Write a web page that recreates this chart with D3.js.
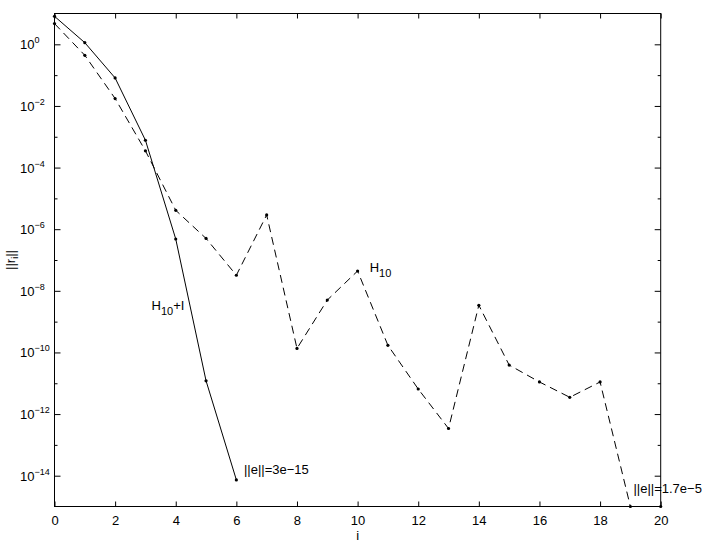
<!DOCTYPE html>
<html>
<head>
<meta charset="utf-8">
<script src="https://cdn.jsdelivr.net/npm/d3@7"></script>
<style>
  body { margin: 0; background: #fff; }
  svg text { font-family: "Liberation Sans", Arial, Helvetica, sans-serif; fill: #000; }
</style>
</head>
<body>
<svg id="chart" width="708" height="545"></svg>
<script>
// iteration index
var iters = d3.range(0, 21);

// residual norms
var hilbertPlusI = [8.1, 1.13, 0.081, 7.7e-4, 4.8e-7, 1.2e-11, 7.3e-15];
var hilbert = [4.7, 0.44, 0.0174, 3.5e-4, 4.1e-6, 5e-7, 3.2e-8, 2.9e-6, 1.35e-10, 5e-9,
               4.4e-8, 1.7e-10, 6.5e-12, 3.4e-13, 3.4e-9, 3.9e-11, 1.1e-11, 3.5e-12, 1.1e-11,
               1e-15, 1e-15];

var xTicks = [0, 2, 4, 6, 8, 10, 12, 14, 16, 18, 20];
var yMajorExp = [0, -2, -4, -6, -8, -10, -12, -14];
var yMinorExp = [-1, -3, -5, -7, -9, -11, -13];

// text annotations: [i, value, main, subscript, rest]
var notes = [
  [3.2, 2.3e-9, "H", "10", "+I"],
  [10.4, 4.0e-8, "H", "10", ""],
  [6.25, 1.1e-14, "||e||=3e\u221215", "", ""],
  [19.1, 2.7e-15, "||e||=1.7e\u22125", "", ""]
];

var svg = d3.select("#chart");
var padL = 54.5, padR = 660.7, padT = 13.5, padB = 506.5;

var x = d3.scaleLinear().domain([0, 20]).range([padL, padR]);
var y = d3.scaleLog().domain([1e-15, 1e1]).range([padB, padT]);

// frame
svg.append("rect")
  .attr("x", padL).attr("y", padT)
  .attr("width", padR - padL).attr("height", padB - padT)
  .attr("fill", "none").attr("stroke", "#000").attr("stroke-width", 1);

function clean(g){ g.select(".domain").remove(); g.selectAll(".tick line").attr("stroke", "#000"); }

// x ticks bottom + top
svg.append("g").attr("transform", "translate(0," + padB + ")")
  .call(d3.axisBottom(x).tickValues(xTicks).tickSize(-5).tickPadding(9).tickFormat(d3.format("d")))
  .call(clean)
  .call(function(g){ g.attr("font-family", null).attr("font-size", 13); });
svg.append("g").attr("transform", "translate(0," + padT + ")")
  .call(d3.axisTop(x).tickValues(xTicks).tickSize(-5).tickFormat(""))
  .call(clean);

// y ticks left + right
var majorVals = yMajorExp.map(function(e){ return Math.pow(10, e); });
var minorVals = yMinorExp.map(function(e){ return Math.pow(10, e); });
svg.append("g").attr("transform", "translate(" + padL + ",0)")
  .call(d3.axisLeft(y).tickValues(majorVals).tickSize(-6).tickFormat(""))
  .call(clean);
svg.append("g").attr("transform", "translate(" + padL + ",0)")
  .call(d3.axisLeft(y).tickValues(minorVals).tickSize(-3).tickFormat(""))
  .call(clean);
svg.append("g").attr("transform", "translate(" + padR + ",0)")
  .call(d3.axisRight(y).tickValues(majorVals).tickSize(-6).tickFormat(""))
  .call(clean);
svg.append("g").attr("transform", "translate(" + padR + ",0)")
  .call(d3.axisRight(y).tickValues(minorVals).tickSize(-3).tickFormat(""))
  .call(clean);

// y tick labels 10^e
var ylab = svg.append("g").selectAll("text").data(yMajorExp).join("text")
  .attr("x", 20)
  .attr("y", function(e){ return y(Math.pow(10, e)) + 5; })
  .attr("font-size", 13);
ylab.append("tspan").text("10");
ylab.append("tspan").attr("dy", -6).attr("font-size", 9)
  .text(function(e){ return e === 0 ? "0" : "\u2212" + Math.abs(e); });

// axis titles
svg.append("text").attr("x", (padL + padR) / 2).attr("y", 539.5)
  .attr("text-anchor", "middle").attr("font-size", 13).text("i");
var yt = svg.append("text")
  .attr("transform", "translate(15," + (padT + padB) / 2 + ") rotate(-90)")
  .attr("text-anchor", "middle").attr("font-size", 13);
yt.append("tspan").text("||r");
yt.append("tspan").attr("dy", 3).attr("font-size", 9).text("i");
yt.append("tspan").attr("dy", -3).text("||");

// series
var plot = svg.append("g");
var line = d3.line()
  .x(function(d){ return x(d[0]); })
  .y(function(d){ return y(d[1]); });

var solidPts = hilbertPlusI.map(function(v, k){ return [iters[k], v]; });
var dashPts = hilbert.map(function(v, k){ return [iters[k], v]; });

plot.append("path").datum(dashPts).attr("d", line)
  .attr("fill", "none").attr("stroke", "#000").attr("stroke-width", 1)
  .attr("stroke-dasharray", "8,5");
plot.append("path").datum(solidPts).attr("d", line)
  .attr("fill", "none").attr("stroke", "#000").attr("stroke-width", 1);

plot.selectAll("circle.pt").data(dashPts.concat(solidPts)).join("circle")
  .attr("class", "pt")
  .attr("cx", function(d){ return x(d[0]); })
  .attr("cy", function(d){ return y(d[1]); })
  .attr("r", 1.6).attr("fill", "#000");

// annotations
var nt = svg.append("g").selectAll("text").data(notes).join("text")
  .attr("x", function(d){ return x(d[0]); })
  .attr("y", function(d){ return y(d[1]); })
  .attr("font-size", 13);
nt.append("tspan").text(function(d){ return d[2]; });
nt.filter(function(d){ return d[3]; }).append("tspan")
  .attr("dy", 5).attr("font-size", 11).text(function(d){ return d[3]; });
nt.filter(function(d){ return d[4]; }).append("tspan")
  .attr("dy", -5).text(function(d){ return d[4]; });
</script>
</body>
</html>
